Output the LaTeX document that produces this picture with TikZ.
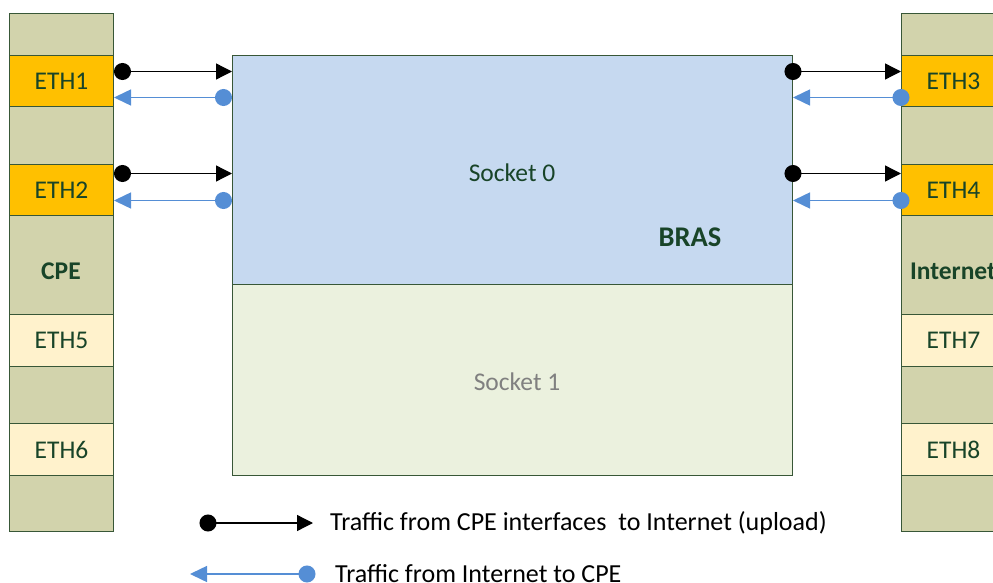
\documentclass[tikz,border=0pt]{standalone}
\usepackage{fontspec}
\setmainfont{Carlito}
\usetikzlibrary{arrows.meta}
\definecolor{tan}{RGB}{210,211,172}
\definecolor{ethon}{RGB}{255,192,0}
\definecolor{ethoff}{RGB}{255,242,204}
\definecolor{sockzero}{RGB}{198,217,240}
\definecolor{sockone}{RGB}{235,241,222}
\definecolor{edgegreen}{RGB}{56,87,55}
\definecolor{ink}{RGB}{24,68,40}
\definecolor{downblue}{RGB}{85,142,213}
\tikzset{
  seg/.style={draw=edgegreen, line width=1pt, minimum width=104pt, inner sep=0pt,
    anchor=north west, font=\fontsize{25.5}{30}\selectfont, text=ink},
  lbl/.style={inner sep=0pt, font=\fontsize{25.5}{30}\selectfont, text=ink},
  legend/.style={inner sep=0pt, anchor=west, font=\fontsize{26}{30}\selectfont, text=black},
  upflow/.style={draw=black, line width=1.3pt,
    {Circle[length=17pt]}-{Triangle[length=16pt,width=16pt]}},
  downflow/.style={draw=downblue, line width=1.5pt,
    {Circle[length=17pt]}-{Triangle[length=17pt,width=16pt]}},
}
\begin{document}
\begin{tikzpicture}[x=1pt,y=-1pt]
\useasboundingbox (0,0) rectangle (993,583);
\clip (0,0) rectangle (993,583);

% CPE port column
\node[seg, fill=tan,    minimum height=42pt] (L0)   at (9,13)  {};
\node[seg, fill=ethon,  minimum height=51pt] (ETH1) at (9,55)  {ETH1};
\node[seg, fill=tan,    minimum height=58pt] (L2)   at (9,106) {};
\node[seg, fill=ethon,  minimum height=51pt] (ETH2) at (9,164) {ETH2};
\node[seg, fill=tan,    minimum height=99pt] (Lcpe) at (9,215) {};
\node[seg, fill=ethoff, minimum height=52pt] (ETH5) at (9,314) {ETH5};
\node[seg, fill=tan,    minimum height=57pt] (L6)   at (9,366) {};
\node[seg, fill=ethoff, minimum height=52pt] (ETH6) at (9,423) {ETH6};
\node[seg, fill=tan,    minimum height=56pt] (L8)   at (9,475) {};
\node[lbl, font=\fontsize{25.5}{30}\selectfont\bfseries] (cpe) at (61,271) {CPE};

% Internet port column
\node[seg, fill=tan,    minimum height=42pt] (R0)   at (901,13)  {};
\node[seg, fill=ethon,  minimum height=51pt] (ETH3) at (901,55)  {ETH3};
\node[seg, fill=tan,    minimum height=58pt] (R2)   at (901,106) {};
\node[seg, fill=ethon,  minimum height=51pt] (ETH4) at (901,164) {ETH4};
\node[seg, fill=tan,    minimum height=99pt] (Rnet) at (901,215) {};
\node[seg, fill=ethoff, minimum height=52pt] (ETH7) at (901,314) {ETH7};
\node[seg, fill=tan,    minimum height=57pt] (R6)   at (901,366) {};
\node[seg, fill=ethoff, minimum height=52pt] (ETH8) at (901,423) {ETH8};
\node[seg, fill=tan,    minimum height=56pt] (R8)   at (901,475) {};
\node[lbl, font=\fontsize{25.5}{30}\selectfont\bfseries] (inet) at (953,271) {Internet};

% BRAS with its two sockets
\node[seg, fill=sockzero, minimum width=560pt, minimum height=229pt] (sock0) at (232,55) {};
\node[seg, fill=sockone,  minimum width=560pt, minimum height=191pt] (sock1) at (232,284) {};
\node[lbl] (s0) at (512,173) {Socket 0};
\node[lbl, font=\fontsize{28.5}{32}\selectfont\bfseries] (bras) at (690,237) {BRAS};
\node[lbl, text=gray] (s1) at (517,382) {Socket 1};

% CPE side traffic
\coordinate (l1u) at ([yshift=9.5pt]ETH1.east);
\coordinate (l1d) at ([yshift=-16.5pt]ETH1.east);
\coordinate (l2u) at ([yshift=16.5pt]ETH2.east);
\coordinate (l2d) at ([yshift=-10.5pt]ETH2.east);
\draw[upflow]   (l1u) -- (l1u -| sock0.west);
\draw[downflow] (l1d -| sock0.west) -- (l1d);
\draw[upflow]   (l2u) -- (l2u -| sock0.west);
\draw[downflow] (l2d -| sock0.west) -- (l2d);

% Internet side traffic
\coordinate (r1u) at ([yshift=9.5pt]ETH3.west);
\coordinate (r1d) at ([yshift=-16.5pt]ETH3.west);
\coordinate (r2u) at ([yshift=16.5pt]ETH4.west);
\coordinate (r2d) at ([yshift=-10.5pt]ETH4.west);
\draw[upflow, shorten <=-8.5pt]   (r1u -| sock0.east) -- (r1u);
\draw[downflow, shorten <=-8.5pt] (r1d) -- (r1d -| sock0.east);
\draw[upflow, shorten <=-8.5pt]   (r2u -| sock0.east) -- (r2u);
\draw[downflow, shorten <=-8.5pt] (r2d) -- (r2d -| sock0.east);

% Legend
\node[legend] (lg1) at (330,523) {Traffic from CPE interfaces\ \ to Internet (upload)};
\node[legend] (lg2) at (335,574) {Traffic from Internet to CPE};
\coordinate (lgA) at (199.5,523);
\coordinate (lgB) at (190,574);
\draw[upflow, shorten >=17pt] (lgA) -- (lg1.west);
\draw[downflow, shorten <=19.5pt] (lg2.west) -- (lgB);
\end{tikzpicture}
\end{document}
